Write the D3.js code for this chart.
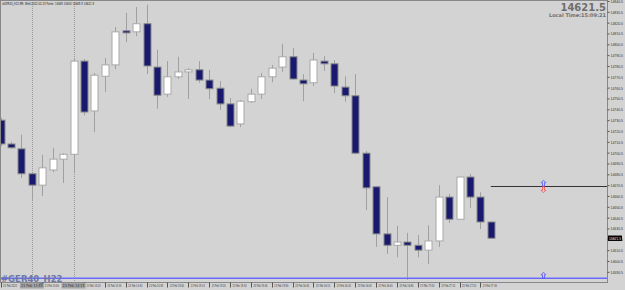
<!DOCTYPE html>
<html>
<head>
<meta charset="utf-8">
<script src="https://cdn.jsdelivr.net/npm/d3@7"></script>
<style>
  body { margin: 0; background: #d3d3d3; }
  svg { display: block; font-family: 'DejaVu Sans', sans-serif; }
</style>
</head>
<body>
<div id="chart"></div>
<script>
// M5 candles, oldest first
const opens = [14730.5, 14708.5, 14704, 14681, 14670.5, 14684.5, 14694.5, 14699, 14785, 14739, 14771, 14781.5,
  14813, 14812, 14819.5, 14779.5, 14754.5, 14770.5, 14775, 14777, 14767.5, 14760, 14745.5, 14727,
  14747.5, 14754.5, 14770.5, 14779.5, 14789, 14767.5, 14765, 14785, 14782.5, 14761, 14753, 14700,
  14669, 14625.5, 14615, 14618, 14615, 14610.5, 14619, 14659.5, 14639, 14678, 14659.5, 14636.5];
const highs = [14732.5, 14710.5, 14717, 14682.5, 14698.5, 14705, 14700, 14787, 14787, 14774, 14788, 14816.5,
  14829.5, 14835, 14837, 14795.5, 14785, 14789, 14778.5, 14785, 14777, 14766.5, 14751, 14749,
  14759.5, 14774, 14781.5, 14801, 14797, 14773, 14792.5, 14789.5, 14786, 14771, 14773, 14702,
  14669.5, 14659.5, 14633, 14626.5, 14624.5, 14633.5, 14670.5, 14662.5, 14678, 14681, 14664, 14636.5];
const lows = [14706.5, 14704, 14677, 14657, 14660.5, 14682.5, 14672.5, 14681.5, 14735, 14719.5, 14756.5, 14777.5,
  14802.5, 14808, 14773, 14741, 14752, 14768.5, 14750, 14765, 14750, 14740, 14724, 14724,
  14746.5, 14750, 14765.5, 14775, 14767.5, 14748, 14762, 14776, 14755.5, 14747.5, 14699, 14647.5,
  14613.5, 14607, 14604, 14583, 14604, 14597.5, 14613.5, 14635.5, 14639, 14649.5, 14630, 14621.5];
const closes = [14708.5, 14705, 14681, 14670.5, 14686.5, 14694.5, 14699, 14785, 14738, 14772, 14781.5, 14812,
  14811, 14819.5, 14780.5, 14753.5, 14770.5, 14775, 14777, 14767.5, 14759.5, 14745.5, 14725, 14748,
  14754.5, 14770.5, 14778.5, 14789, 14768.5, 14764, 14786, 14782.5, 14762, 14753, 14700, 14668,
  14625.5, 14615, 14618, 14615, 14610.5, 14619, 14659.5, 14639, 14678, 14659.5, 14636.5, 14621.5];

const priceTicks = [14840.5, 14830.5, 14820.5, 14810.5, 14800.5, 14790.5, 14780.5, 14770.5, 14760.5,
  14750.5, 14740.5, 14730.5, 14720.5, 14710.5, 14700.5, 14690.5, 14680.5, 14670.5, 14660.5,
  14650.5, 14640.5, 14630.5, 14620.5, 14610.5, 14600.5, 14590.5];

// labels hidden under the vertical-line boxes are left out
const timeIdx = [0, 4, 8, 10, 12, 14, 16, 18, 20, 22, 24, 26, 28, 30, 32, 34, 36, 38, 40, 42, 44, 46];
const timeLabels = ['23 Feb 2022', '23 Feb 14:00', '23 Feb 14:20', '23 Feb 14:30',
  '23 Feb 14:40', '23 Feb 14:50', '23 Feb 15:00', '23 Feb 15:10', '23 Feb 15:20', '23 Feb 15:30',
  '23 Feb 15:40', '23 Feb 15:50', '23 Feb 16:00', '23 Feb 16:10', '23 Feb 16:20', '23 Feb 16:30',
  '23 Feb 16:40', '23 Feb 16:50', '23 Feb 17:00', '23 Feb 17:10', '23 Feb 17:20', '23 Feb 17:30'];

// vertical line objects
const vLineIdx = [3, 7];
const vLineLabels = ['23 Feb 13:55', '23 Feb 14:15'];

const lastPrice = 14621.5;
const levelPrice = 14669.5;
const levelStart = 47;
const arrowIdx = 52;
const bottomLinePrice = 14584.5;

const width = 625, height = 290;
const plotW = 607.5, plotH = 282.5;

const svg = d3.select('#chart')
  .append('svg')
  .attr('width', width)
  .attr('height', height);

svg.append('rect')
  .attr('width', width).attr('height', height)
  .attr('fill', '#d3d3d3');

const x = d3.scaleLinear().domain([0, 47]).range([0.6, 490.8]);
const y = d3.scaleLinear().domain([14581.1, 14841.4]).range([282, 0]);

const candles = opens.map((o, i) => ({ i, o, h: highs[i], l: lows[i], c: closes[i] }));

// Vertical line objects (dotted)
svg.selectAll('.vline')
  .data(vLineIdx)
  .enter()
  .append('line')
  .attr('class', 'vline')
  .attr('x1', d => Math.round(x(d)) + 0.5)
  .attr('x2', d => Math.round(x(d)) + 0.5)
  .attr('y1', 0)
  .attr('y2', plotH)
  .attr('stroke', '#9a9a9a')
  .attr('stroke-dasharray', '1,1');

// Wicks
svg.selectAll('.wick')
  .data(candles)
  .enter()
  .append('line')
  .attr('class', 'wick')
  .attr('x1', d => Math.round(x(d.i)) + 0.5)
  .attr('x2', d => Math.round(x(d.i)) + 0.5)
  .attr('y1', d => y(d.h))
  .attr('y2', d => y(d.l))
  .attr('stroke', '#a0a0a0')
  .attr('stroke-width', 1);

// Bodies
svg.selectAll('.body')
  .data(candles)
  .enter()
  .append('rect')
  .attr('class', 'body')
  .attr('x', d => Math.round(x(d.i)) - 3)
  .attr('y', d => y(Math.max(d.o, d.c)))
  .attr('width', 7)
  .attr('height', d => Math.max(1, Math.abs(y(d.o) - y(d.c))))
  .attr('fill', d => d.c < d.o ? '#191970' : '#ffffff')
  .attr('stroke', d => d.c < d.o ? '#8a8a8a' : '#a8a8a8')
  .attr('stroke-width', 1);

// Horizontal level line
svg.append('line')
  .attr('x1', x(levelStart))
  .attr('x2', plotW)
  .attr('y1', Math.round(y(levelPrice)) + 0.5)
  .attr('y2', Math.round(y(levelPrice)) + 0.5)
  .attr('stroke', '#333333')
  .attr('stroke-width', 1);

// Bottom blue line
svg.append('line')
  .attr('x1', 0)
  .attr('x2', plotW)
  .attr('y1', y(bottomLinePrice))
  .attr('y2', y(bottomLinePrice))
  .attr('stroke', '#6a6aff')
  .attr('stroke-width', 1.5);

// hollow arrows
function arrowPath(cx, tip, dir) {
  // dir = -1 points up, +1 points down
  const p = d3.path();
  p.moveTo(cx, tip);
  p.lineTo(cx + 2.5, tip - dir * 2.5);
  p.lineTo(cx + 1, tip - dir * 2.5);
  p.lineTo(cx + 1, tip - dir * 6);
  p.lineTo(cx - 1, tip - dir * 6);
  p.lineTo(cx - 1, tip - dir * 2.5);
  p.lineTo(cx - 2.5, tip - dir * 2.5);
  p.closePath();
  return p.toString();
}
const ax = Math.round(x(arrowIdx)) + 0.5;
svg.append('path')
  .attr('d', arrowPath(ax, y(levelPrice) - 6, -1))
  .attr('fill', 'none').attr('stroke', '#5050ff').attr('stroke-width', 0.8);
svg.append('path')
  .attr('d', arrowPath(ax, y(levelPrice) + 6.5, 1))
  .attr('fill', 'none').attr('stroke', '#ff5050').attr('stroke-width', 0.8);
svg.append('path')
  .attr('d', arrowPath(ax, y(bottomLinePrice) - 6, -1))
  .attr('fill', 'none').attr('stroke', '#5050ff').attr('stroke-width', 0.8);

// Frame
svg.append('rect')
  .attr('x', 0.5).attr('y', 0.5)
  .attr('width', plotW - 0.5).attr('height', plotH - 0.5)
  .attr('fill', 'none')
  .attr('stroke', '#888888');

// Right price axis
const yAxis = svg.append('g')
  .attr('transform', `translate(${plotW},0)`)
  .call(d3.axisRight(y).tickValues(priceTicks).tickSize(2).tickFormat(d3.format('.1f')));
yAxis.select('.domain').remove();
yAxis.selectAll('line').attr('stroke', '#555');
yAxis.selectAll('text')
  .attr('x', 3)
  .attr('font-size', 4.2)
  .attr('fill', '#333')
  .attr('textLength', 12.5)
  .attr('lengthAdjust', 'spacingAndGlyphs');

// current price marker
const lp = svg.append('g').attr('transform', `translate(${plotW + 0.5},${y(lastPrice)})`);
lp.append('rect')
  .attr('x', 0).attr('y', -2.7)
  .attr('width', 14).attr('height', 5.4)
  .attr('fill', '#000');
lp.append('text')
  .attr('x', 1).attr('y', 1.5)
  .attr('font-size', 4.2)
  .attr('fill', '#fff')
  .attr('textLength', 12)
  .attr('lengthAdjust', 'spacingAndGlyphs')
  .text(d3.format('.1f')(lastPrice));

// Time axis labels
const tAxis = svg.append('g');
tAxis.selectAll('.tick-line')
  .data(timeIdx)
  .enter()
  .append('line')
  .attr('x1', d => Math.round(x(d)) + 0.5)
  .attr('x2', d => Math.round(x(d)) + 0.5)
  .attr('y1', plotH)
  .attr('y2', plotH + 5)
  .attr('stroke', '#555');
tAxis.selectAll('.tick-label')
  .data(timeIdx)
  .enter()
  .append('text')
  .attr('x', d => x(d) + 2.5)
  .attr('y', plotH + 4.5)
  .attr('font-size', 4)
  .attr('fill', '#333')
  .attr('textLength', 14)
  .attr('lengthAdjust', 'spacingAndGlyphs')
  .text((d, i) => timeLabels[i]);

// vertical line labels on time axis
const vl = svg.selectAll('.vlabel')
  .data(vLineIdx)
  .enter()
  .append('g')
  .attr('transform', d => `translate(${x(d)},${plotH})`);
vl.append('rect')
  .attr('x', -12).attr('y', 0.5)
  .attr('width', 24).attr('height', 5.5)
  .attr('fill', '#a4a4a4');
vl.append('text')
  .attr('x', -11).attr('y', 4.5)
  .attr('font-size', 4)
  .attr('fill', '#333')
  .attr('textLength', 22)
  .attr('lengthAdjust', 'spacingAndGlyphs')
  .text((d, i) => vLineLabels[i]);

// Top-left caption
svg.append('text')
  .attr('x', 2).attr('y', 5)
  .attr('font-size', 4)
  .attr('fill', '#222')
  .attr('textLength', 92)
  .attr('lengthAdjust', 'spacingAndGlyphs')
  .text('#GER40_H22,M5:  Wed 2022.02.23 Forex:  14605 14610 14605.5 14621.5');

// Top-right price and clock
svg.append('text')
  .attr('x', 606).attr('y', 10.5)
  .attr('text-anchor', 'end')
  .attr('font-size', 10)
  .attr('font-weight', 'bold')
  .attr('fill', '#6e6e6e')
  .text(d3.format('.1f')(lastPrice));
svg.append('text')
  .attr('x', 606).attr('y', 17)
  .attr('text-anchor', 'end')
  .attr('font-size', 5)
  .attr('font-weight', 'bold')
  .attr('fill', '#6e6e6e')
  .text('Local Time:15:09:21');

// Symbol watermark bottom-left
svg.append('text')
  .attr('x', 1).attr('y', 281.5)
  .attr('font-size', 8.5)
  .attr('font-weight', 'bold')
  .attr('fill', '#6c78a8')
  .text('#GER40_H22');
</script>
</body>
</html>
